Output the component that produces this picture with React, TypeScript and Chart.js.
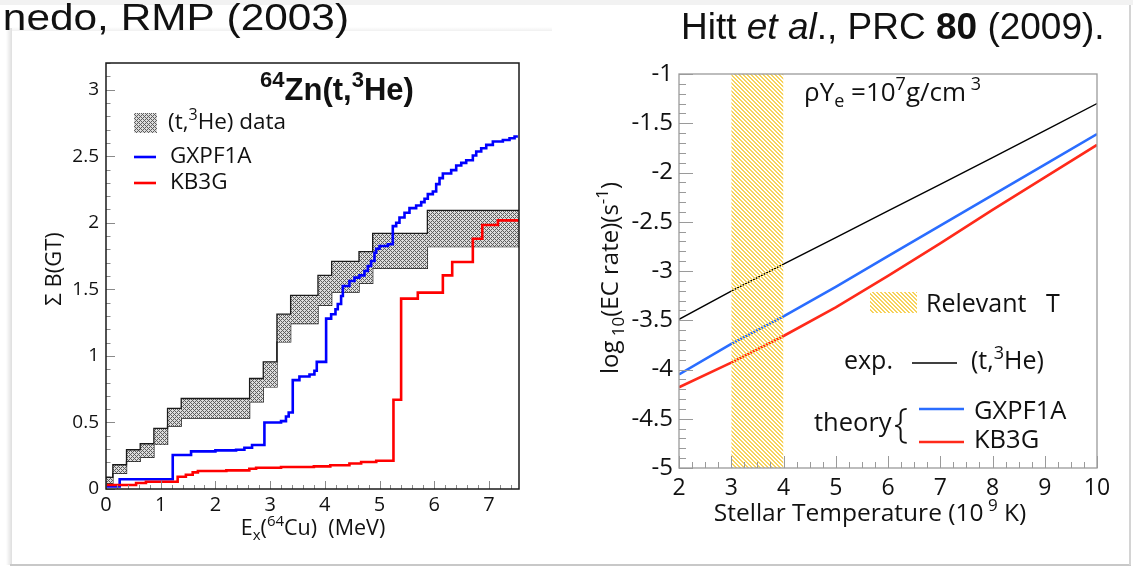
import React, { useEffect, useRef } from "react";
import { Chart, registerables } from "chart.js";

Chart.register(...registerables);

// ---------- Left panel: cumulative B(GT) for 64Zn(t,3He) ----------
const bandEdges = [0, 0.125, 0.375, 0.625, 0.875, 1.125, 1.375, 2.625, 2.875, 3.125, 3.375, 3.875, 4.125, 4.625, 4.875, 5.875, 7.55];
const bandLower = [0.043, 0.118, 0.208, 0.238, 0.335, 0.473, 0.533, 0.655, 0.767, 1.105, 1.243, 1.38, 1.48, 1.545, 1.658, 1.82];
const bandUpper = [0.088, 0.182, 0.295, 0.34, 0.455, 0.605, 0.68, 0.83, 0.955, 1.313, 1.455, 1.605, 1.71, 1.783, 1.92, 2.093];

const gxpfE = [0, 0.25, 1.22, 1.555, 2.0, 2.378, 2.53, 2.67, 2.896, 3.2, 3.29, 3.34, 3.414, 3.536, 3.72, 3.81, 3.853, 4.024, 4.116, 4.195, 4.237, 4.298, 4.33, 4.45, 4.542, 4.633, 4.725, 4.786, 4.847, 4.908, 4.939, 5.0, 5.152, 5.243, 5.305, 5.365, 5.457, 5.548, 5.67, 5.762, 5.823, 5.883, 5.975, 6.036, 6.097, 6.158, 6.31, 6.402, 6.494, 6.585, 6.706, 6.768, 6.859, 6.951, 7.072, 7.255, 7.377, 7.469];
const gxpfB = [0.02, 0.073, 0.255, 0.283, 0.29, 0.295, 0.31, 0.33, 0.5, 0.51, 0.545, 0.575, 0.818, 0.845, 0.86, 0.888, 0.955, 1.28, 1.313, 1.35, 1.39, 1.45, 1.525, 1.563, 1.588, 1.605, 1.638, 1.675, 1.713, 1.775, 1.805, 1.825, 1.838, 1.975, 2.0, 2.04, 2.075, 2.11, 2.13, 2.155, 2.18, 2.215, 2.235, 2.29, 2.335, 2.37, 2.395, 2.43, 2.45, 2.47, 2.505, 2.535, 2.56, 2.585, 2.61, 2.622, 2.635, 2.648];
const gxpfEnd = 7.53;

const kb3gE = [0, 0.55, 0.73, 1.31, 1.46, 1.585, 1.68, 2.2, 2.62, 2.744, 3.2, 3.8, 4.1, 4.45, 4.664, 4.94, 5.255, 5.395, 5.7, 6.158, 6.329, 6.706, 6.878, 7.164];
const kb3gB = [0.03, 0.045, 0.055, 0.092, 0.107, 0.125, 0.135, 0.14, 0.152, 0.16, 0.165, 0.17, 0.178, 0.192, 0.203, 0.212, 0.67, 1.43, 1.475, 1.605, 1.705, 1.88, 1.983, 2.018];
const kb3gEnd = 7.55;

const leftXTicks = [0, 1, 2, 3, 4, 5, 6, 7];
const leftYTicks = [0, 0.5, 1, 1.5, 2, 2.5, 3];
const leftYLabels = ["0", "0.5", "1", "1.5", "2", "2.5", "3"];

// ---------- Right panel: log10 electron-capture rate vs. temperature ----------
const tempT = [2, 3, 4, 5, 6, 7, 8, 9, 10];
const rateExp = [-3.49, -3.205, -2.93, -2.66, -2.39, -2.12, -1.85, -1.575, -1.3];
const rateGxpf = [-4.05, -3.74, -3.46, -3.16, -2.85, -2.54, -2.23, -1.92, -1.61];
const rateKb3g = [-4.18, -3.93, -3.66, -3.37, -3.05, -2.72, -2.38, -2.05, -1.72];
const relevantT = [3, 4];

const rightXTicks = [2, 3, 4, 5, 6, 7, 8, 9, 10];
const rightYTicks = [-5, -4.5, -4, -3.5, -3, -2.5, -2, -1.5, -1];
const rightYLabels = ["-5", "-4.5", "-4", "-3.5", "-3", "-2.5", "-2", "-1.5", "-1"];

const FONT = "'Open Sans', 'DejaVu Sans', sans-serif";
const ARIAL = "'Liberation Sans', Arial, sans-serif";

type Seg = { t: string; sup?: boolean; sub?: boolean; italic?: boolean; bold?: boolean };

function segFont(s: Seg, size: number, family: string, bold: boolean) {
  const sz = s.sup || s.sub ? Math.round(size * 0.7) : size;
  return `${s.italic ? "italic " : ""}${s.bold || bold ? "bold " : ""}${sz}px ${family}`;
}

function drawRich(
  ctx: CanvasRenderingContext2D,
  segs: Seg[],
  x: number,
  y: number,
  size: number,
  family: string,
  align: "left" | "center" | "right" = "left",
  bold = false
) {
  ctx.textAlign = "left";
  ctx.textBaseline = "alphabetic";
  let total = 0;
  for (const s of segs) {
    ctx.font = segFont(s, size, family, bold);
    total += ctx.measureText(s.t).width;
  }
  let cx = align === "left" ? x : align === "center" ? x - total / 2 : x - total;
  for (const s of segs) {
    ctx.font = segFont(s, size, family, bold);
    const dy = s.sup ? -size * 0.42 : s.sub ? size * 0.24 : 0;
    ctx.fillText(s.t, cx, y + dy);
    cx += ctx.measureText(s.t).width;
  }
}

function line(ctx: CanvasRenderingContext2D, x1: number, y1: number, x2: number, y2: number) {
  ctx.beginPath();
  ctx.moveTo(x1, y1);
  ctx.lineTo(x2, y2);
  ctx.stroke();
}

// histogram-style step points: level ys[i] holds from xs[i] up to the next edge
function steps(xs: number[], ys: number[], xEnd: number) {
  const pts = xs.map((x, i) => ({ x, y: ys[i] }));
  pts.push({ x: xEnd, y: ys[ys.length - 1] });
  return pts;
}

function makePattern(size: number, paint: (x: number, y: number) => string | null) {
  const c = document.createElement("canvas");
  c.width = size;
  c.height = size;
  const g = c.getContext("2d")!;
  for (let y = 0; y < size; y++)
    for (let x = 0; x < size; x++) {
      const col = paint(x, y);
      if (col) {
        g.fillStyle = col;
        g.fillRect(x, y, 1, 1);
      }
    }
  return g.createPattern(c, "repeat")!;
}

export default function App() {
  const leftRef = useRef<HTMLCanvasElement>(null);
  const rightRef = useRef<HTMLCanvasElement>(null);

  useEffect(() => {
    const crossHatch = makePattern(4, (x, y) =>
      (x + y) % 4 === 0 || (x - y + 4) % 4 === 0 ? "#5e5e5e" : "#dcdcdc"
    );
    const yellowHatch = makePattern(4, (x, y) => {
      const d = (x - y + 8) % 4;
      return d === 0 || d === 1 ? "#f7d35c" : null;
    });

    const leftDecor = {
      id: "leftDecor",
      afterDraw(chart: any) {
        const { ctx, chartArea: a, scales } = chart;
        const xs = scales.x;
        const ys = scales.y;
        ctx.save();
        // tick marks inside the frame
        ctx.strokeStyle = "#8a8a8a";
        ctx.lineWidth = 1;
        for (let i = 0; i <= 32; i++) {
          const py = Math.round(ys.getPixelForValue(i / 10)) + 0.5;
          line(ctx, a.left, py, a.left + (i % 5 === 0 ? 9 : 4.5), py);
        }
        for (let i = 0; i * 0.2 <= 7.55; i++) {
          const px = Math.round(xs.getPixelForValue(i * 0.2)) + 0.5;
          line(ctx, px, a.bottom, px, a.bottom - (i % 5 === 0 ? 8 : 4));
        }
        // frame
        ctx.strokeStyle = "#1a1a1a";
        ctx.lineWidth = 1.5;
        ctx.strokeRect(a.left, a.top, a.right - a.left, a.bottom - a.top);

        ctx.fillStyle = "#111";
        // tick labels
        ctx.font = `19px ${FONT}`;
        ctx.textAlign = "right";
        ctx.textBaseline = "middle";
        leftYTicks.forEach((v, i) => ctx.fillText(leftYLabels[i], a.left - 7, ys.getPixelForValue(v)));
        ctx.font = `20px ${FONT}`;
        ctx.textAlign = "center";
        ctx.textBaseline = "alphabetic";
        leftXTicks.forEach((v) => ctx.fillText(String(v), xs.getPixelForValue(v), 511));

        // axis titles
        drawRich(ctx, [{ t: "E" }, { t: "x", sub: true }, { t: "(" }, { t: "64", sup: true }, { t: "Cu)  (MeV)" }], 313, 535, 21.5, FONT, "center");
        ctx.save();
        ctx.translate(61, 269);
        ctx.rotate(-Math.PI / 2);
        drawRich(ctx, [{ t: "Σ B(GT)" }], 0, 0, 22, FONT, "center");
        ctx.restore();

        // panel title
        drawRich(ctx, [{ t: "64", sup: true }, { t: "Zn(t," }, { t: "3", sup: true }, { t: "He)" }], 337, 100, 31, ARIAL, "center", true);

        // legend
        ctx.fillStyle = crossHatch;
        ctx.fillRect(134, 113, 23, 20);
        ctx.fillStyle = "#111";
        drawRich(ctx, [{ t: "(t," }, { t: "3", sup: true }, { t: "He) data" }], 168, 129, 22.5, FONT);
        ctx.lineWidth = 2.6;
        ctx.strokeStyle = "#0000ff";
        line(ctx, 134, 157, 156, 157);
        drawRich(ctx, [{ t: "GXPF1A" }], 170, 163, 22.5, FONT);
        ctx.strokeStyle = "#ff0000";
        line(ctx, 134, 183, 156, 183);
        drawRich(ctx, [{ t: "KB3G" }], 170, 189, 22.5, FONT);

        // slide caption (horizontally stretched type)
        ctx.save();
        ctx.translate(349, 30);
        ctx.scale(1.145, 1);
        ctx.font = `37px ${ARIAL}`;
        ctx.textAlign = "right";
        ctx.textBaseline = "alphabetic";
        ctx.fillText("nedo, RMP (2003)", 0, 0);
        ctx.restore();
        ctx.restore();
      },
    };

    const rightDecor = {
      id: "rightDecor",
      afterDraw(chart: any) {
        const { ctx, chartArea: a, scales } = chart;
        const xs = scales.x;
        const ys = scales.y;
        ctx.save();
        ctx.strokeStyle = "#9a9a9a";
        ctx.lineWidth = 1;
        for (let i = 0; i <= 40; i++) {
          const py = Math.round(ys.getPixelForValue(-5 + i / 10)) + 0.5;
          line(ctx, a.left, py, a.left + (i % 5 === 0 ? 14 : 7), py);
        }
        for (let i = 0; i <= 32; i++) {
          const px = Math.round(xs.getPixelForValue(2 + i * 0.25)) + 0.5;
          line(ctx, px, a.bottom, px, a.bottom - (i % 4 === 0 ? 12 : 6));
        }
        ctx.strokeStyle = "#9a9a9a";
        ctx.lineWidth = 1.3;
        ctx.strokeRect(a.left, a.top, a.right - a.left, a.bottom - a.top);

        ctx.fillStyle = "#111";
        ctx.font = `24px ${FONT}`;
        ctx.textAlign = "right";
        ctx.textBaseline = "middle";
        rightYTicks.forEach((v, i) => ctx.fillText(rightYLabels[i], a.left - 6, ys.getPixelForValue(v)));
        ctx.font = `23px ${FONT}`;
        ctx.textAlign = "center";
        ctx.textBaseline = "alphabetic";
        rightXTicks.forEach((v) => ctx.fillText(String(v), xs.getPixelForValue(v), 495));

        drawRich(ctx, [{ t: "Stellar Temperature (10" }, { t: " 9", sup: true }, { t: " K)" }], 870, 521, 24.5, FONT, "center");
        ctx.save();
        ctx.translate(618, 278);
        ctx.rotate(-Math.PI / 2);
        drawRich(ctx, [{ t: "log" }, { t: " 10", sub: true }, { t: "(EC rate)(s" }, { t: "-1", sup: true }, { t: ")" }], 0, 0, 24, FONT, "center");
        ctx.restore();

        drawRich(ctx, [{ t: "ρY" }, { t: "e", sub: true }, { t: " =10" }, { t: "7", sup: true }, { t: "g/cm" }, { t: " 3", sup: true }], 804, 101, 26, FONT);

        // legend
        ctx.fillStyle = yellowHatch;
        ctx.fillRect(870, 292, 47, 21);
        ctx.fillStyle = "#111";
        drawRich(ctx, [{ t: "Relevant   T" }], 926, 312, 25, FONT);

        drawRich(ctx, [{ t: "exp." }], 844, 369, 25, FONT);
        ctx.strokeStyle = "#000";
        ctx.lineWidth = 1.5;
        line(ctx, 912, 363, 957, 363);
        drawRich(ctx, [{ t: "(t," }, { t: "3", sup: true }, { t: "He)" }], 971, 369, 25, FONT);

        drawRich(ctx, [{ t: "theory" }], 814, 431, 25.5, FONT);
        ctx.font = `300 40px ${FONT}`;
        ctx.textAlign = "left";
        ctx.fillText("{", 894, 437);
        ctx.lineWidth = 2.6;
        ctx.strokeStyle = "#2a6dff";
        line(ctx, 919, 409, 964, 409);
        drawRich(ctx, [{ t: "GXPF1A" }], 974, 419, 25.5, FONT);
        ctx.strokeStyle = "#ff2a1a";
        line(ctx, 919, 442, 964, 442);
        drawRich(ctx, [{ t: "KB3G" }], 974, 448, 25.5, FONT);

        drawRich(
          ctx,
          [{ t: "Hitt " }, { t: "et al", italic: true }, { t: "., PRC " }, { t: "80", bold: true }, { t: " (2009)." }],
          681,
          39,
          37,
          ARIAL
        );
        ctx.restore();
      },
    };

    const base = {
      responsive: false,
      animation: false as const,
      events: [] as any[],
      plugins: { legend: { display: false }, tooltip: { enabled: false } },
    };

    const stepLine = { stepped: "before", pointRadius: 0 };

    const left = new Chart(leftRef.current!, {
      type: "line",
      data: {
        datasets: [
          { ...stepLine, label: "KB3G", data: steps(kb3gE, kb3gB, kb3gEnd), borderColor: "#ff0000", borderWidth: 2.6, fill: false },
          { ...stepLine, label: "GXPF1A", data: steps(gxpfE, gxpfB, gxpfEnd), borderColor: "#0000ff", borderWidth: 2.6, fill: false },
          {
            ...stepLine,
            label: "(t,3He) data",
            data: steps(bandEdges.slice(0, -1), bandUpper, bandEdges[bandEdges.length - 1]),
            borderColor: "#1a1a1a",
            borderWidth: 1.3,
            fill: "+1",
            backgroundColor: crossHatch,
          },
          {
            ...stepLine,
            label: "(t,3He) lower",
            data: steps(bandEdges.slice(0, -1), bandLower, bandEdges[bandEdges.length - 1]),
            borderColor: "#1a1a1a",
            borderWidth: 1.3,
            fill: false,
          },
        ] as any,
      },
      options: {
        ...base,
        layout: { padding: { left: 106, top: 63, right: 1133 - 519, bottom: 566 - 489 } },
        scales: {
          x: { type: "linear", min: 0, max: 7.55, display: false },
          y: { type: "linear", min: 0, max: 3.2, display: false },
        },
      } as any,
      plugins: [leftDecor],
    });

    const right = new Chart(rightRef.current!, {
      type: "line",
      data: {
        datasets: [
          { label: "Relevant T", data: relevantT.map((t) => ({ x: t, y: -1 })), borderWidth: 0, pointRadius: 0, fill: "start", backgroundColor: yellowHatch },
          { label: "(t,3He)", data: tempT.map((t, i) => ({ x: t, y: rateExp[i] })), borderColor: "#000", borderWidth: 1.4, pointRadius: 0, fill: false },
          { label: "GXPF1A", data: tempT.map((t, i) => ({ x: t, y: rateGxpf[i] })), borderColor: "#2a6dff", borderWidth: 2.6, pointRadius: 0, fill: false },
          { label: "KB3G", data: tempT.map((t, i) => ({ x: t, y: rateKb3g[i] })), borderColor: "#ff2a1a", borderWidth: 2.6, pointRadius: 0, fill: false },
        ] as any,
      },
      options: {
        ...base,
        layout: { padding: { left: 679, top: 74, right: 1133 - 1097, bottom: 566 - 468 } },
        scales: {
          x: { type: "linear", min: 2, max: 10, display: false },
          y: { type: "linear", min: -5, max: -1, display: false },
        },
      } as any,
      plugins: [rightDecor],
    });

    return () => {
      left.destroy();
      right.destroy();
    };
  }, []);

  const abs: React.CSSProperties = { position: "absolute", left: 0, top: 0 };
  return (
    <div style={{ position: "fixed", left: 0, top: 0, width: 1133, height: 566, overflow: "hidden", background: "#fff" }}>
      <div style={{ ...abs, width: 1133, height: 5, background: "#f2f2f2" }} />
      <div style={{ ...abs, left: 6, top: 28, width: 6, height: 537, background: "linear-gradient(to right, rgba(0,0,0,0), rgba(0,0,0,0.13))" }} />
      <div style={{ ...abs, left: 12, top: 27, width: 540, height: 4, background: "linear-gradient(to bottom, rgba(0,0,0,0), rgba(0,0,0,0.06))" }} />
      <div style={{ ...abs, left: 10, top: 564, width: 1121, height: 2, background: "#c8c8c8" }} />
      <div style={{ ...abs, left: 1129, top: 5, width: 2, height: 560, background: "#d4d4d4" }} />
      <canvas ref={leftRef} width={1133} height={566} style={abs} />
      <canvas ref={rightRef} width={1133} height={566} style={abs} />
    </div>
  );
}
